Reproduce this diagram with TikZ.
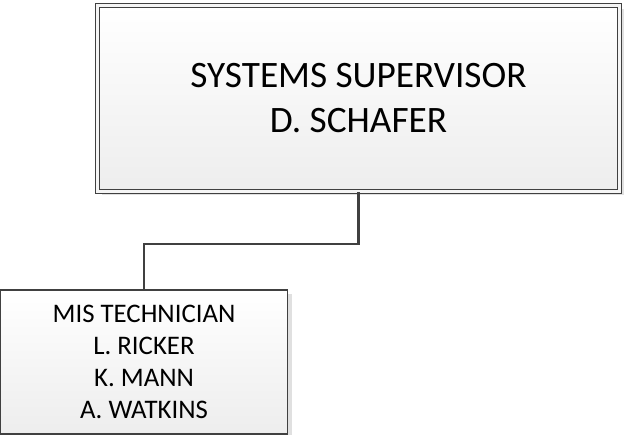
\documentclass[tikz,border=0pt]{standalone}
\usepackage{fontspec}
\setmainfont{Carlito}
\usepackage{tikz}
\usetikzlibrary{shadows, positioning}

\begin{document}
\begin{tikzpicture}[
    x=1pt, y=-1pt,
    boss/.style={rectangle, draw=black!75, line width=1.1pt,
                 double=black!4, double distance=2.6pt,
                 top color=white, bottom color=black!7,
                 minimum width=522pt, minimum height=186pt, align=center,
                 font=\fontsize{37.3}{45}\selectfont, inner sep=0pt,
                 general shadow={fill=black!12, shadow xshift=4pt, shadow yshift=-4pt}},
    staff/.style={rectangle, draw=black!75, line width=1.2pt,
                  top color=white, bottom color=black!7,
                  minimum width=287pt, minimum height=144pt, align=center,
                  font=\fontsize{26.8}{32}\selectfont, inner sep=0pt,
                  general shadow={fill=black!12, shadow xshift=4pt, shadow yshift=-4pt}},
    link/.style={draw=black!75, line width=2.4pt}
]
\useasboundingbox (0,0) rectangle (625,435);

% --- Supervisor ---
\node[boss] (super) at (358.5,98.5) {SYSTEMS SUPERVISOR\\D. SCHAFER};

% --- Technicians ---
\node[staff] (tech) at (144,362) {MIS TECHNICIAN\\L. RICKER\\K. MANN\\A. WATKINS};

% --- Connector ---
\draw[link] (super.south) -- ++(0,52) -| (tech.north);

\end{tikzpicture}
\end{document}
